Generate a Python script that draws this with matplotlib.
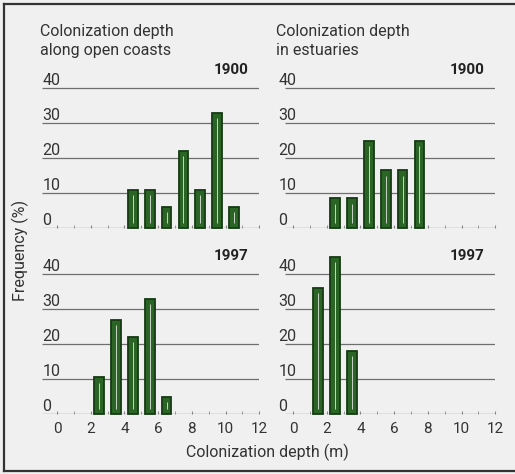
import numpy as np
import matplotlib.pyplot as plt

# depth class centres (m) and frequencies (%)
open_1900_x = [4.5, 5.5, 6.5, 7.5, 8.5, 9.5, 10.5]
open_1900_y = [11, 11, 6, 22, 11, 33, 6]
est_1900_x = [2.5, 3.5, 4.5, 5.5, 6.5, 7.5]
est_1900_y = [8.5, 8.5, 25, 16.5, 16.5, 25]
open_1997_x = [2.5, 3.5, 4.5, 5.5, 6.5]
open_1997_y = [10.5, 27, 22, 33, 5]
est_1997_x = [1.5, 2.5, 3.5]
est_1997_y = [36, 45, 18]

yticks = [0, 10, 20, 30, 40]
xticks = [0, 2, 4, 6, 8, 10, 12]
titles = ["Colonization depth\nalong open coasts", "Colonization depth\nin estuaries"]
years = ["1900", "1997"]

plt.rcParams['font.family'] = ['Roboto', 'DejaVu Sans']
bg = '#eff0ef'
fig = plt.figure(figsize=(5.15, 4.74), dpi=100, facecolor=bg)
W, H = 515, 474

# frame: left, top, bottom only
fig.add_artist(plt.Line2D([4/W, 4/W], [1-4/H, 1-471/H], color='#333333', lw=1.6))
fig.add_artist(plt.Line2D([4/W, 1], [1-4/H, 1-4/H], color='#333333', lw=1.6))
fig.add_artist(plt.Line2D([4/W, 1], [1-471/H, 1-471/H], color='#333333', lw=1.6))

panels = [
    (open_1900_x, open_1900_y, 0, 0),
    (est_1900_x, est_1900_y, 0, 1),
    (open_1997_x, open_1997_y, 1, 0),
    (est_1997_x, est_1997_y, 1, 1),
]
lefts = [40.2, 276.2]
bottoms = [228, 414]
for xs, ys, r, c in panels:
    ax = fig.add_axes([lefts[c]/W, 1-bottoms[r]/H, 219/W, 157.5/H])
    ax.set_facecolor('none')
    ax.set_xlim(-1, 12)
    ax.set_ylim(0, 45)
    for s in ax.spines.values():
        s.set_visible(False)
    xmin = -0.9 if c == 0 else -0.45
    ax.hlines(yticks, xmin, 12, color='#6f6f6f', lw=0.9, zorder=1)
    ax.bar(xs, ys, width=0.58, color='#2a6526', edgecolor='#153a13',
           linewidth=1.3, zorder=3, clip_on=False)
    ax.vlines(xs, 1.5, np.array(ys) - 1.5, color='#c9d4c6', lw=0.7, zorder=4)
    ax.set_yticks(yticks)
    ax.tick_params(axis='y', length=0, pad=-1.5, labelsize=11.5, labelcolor='#333333')
    for lbl in ax.get_yticklabels():
        lbl.set_ha('left')
        lbl.set_va('bottom')
    ax.set_xticks(xticks)
    ax.set_xticks(range(0, 13), minor=True)
    ax.tick_params(axis='x', which='both', direction='in', length=2,
                   color='#888888', pad=6, labelsize=11, labelcolor='#333333')
    if r == 0:
        ax.tick_params(axis='x', labelbottom=False)
    ax.text(12 - 0.65, 45, years[r], ha='right', va='center',
            fontsize=11, fontweight='bold', color='#222222')
    if r == 0:
        ax.text(-1, 48.6, titles[c], ha='left', va='bottom', fontsize=11.5,
                color='#333333', linespacing=1.3, clip_on=False)

fig.text(20/W, 1-250/H, "Frequency (%)", rotation=90, ha='center', va='center',
         fontsize=11.5, color='#333333')
fig.text(267/W, 1-452/H, "Colonization depth (m)", ha='center', va='center',
         fontsize=11.5, color='#333333')

fig.savefig('out.png', dpi=100, facecolor=bg)
